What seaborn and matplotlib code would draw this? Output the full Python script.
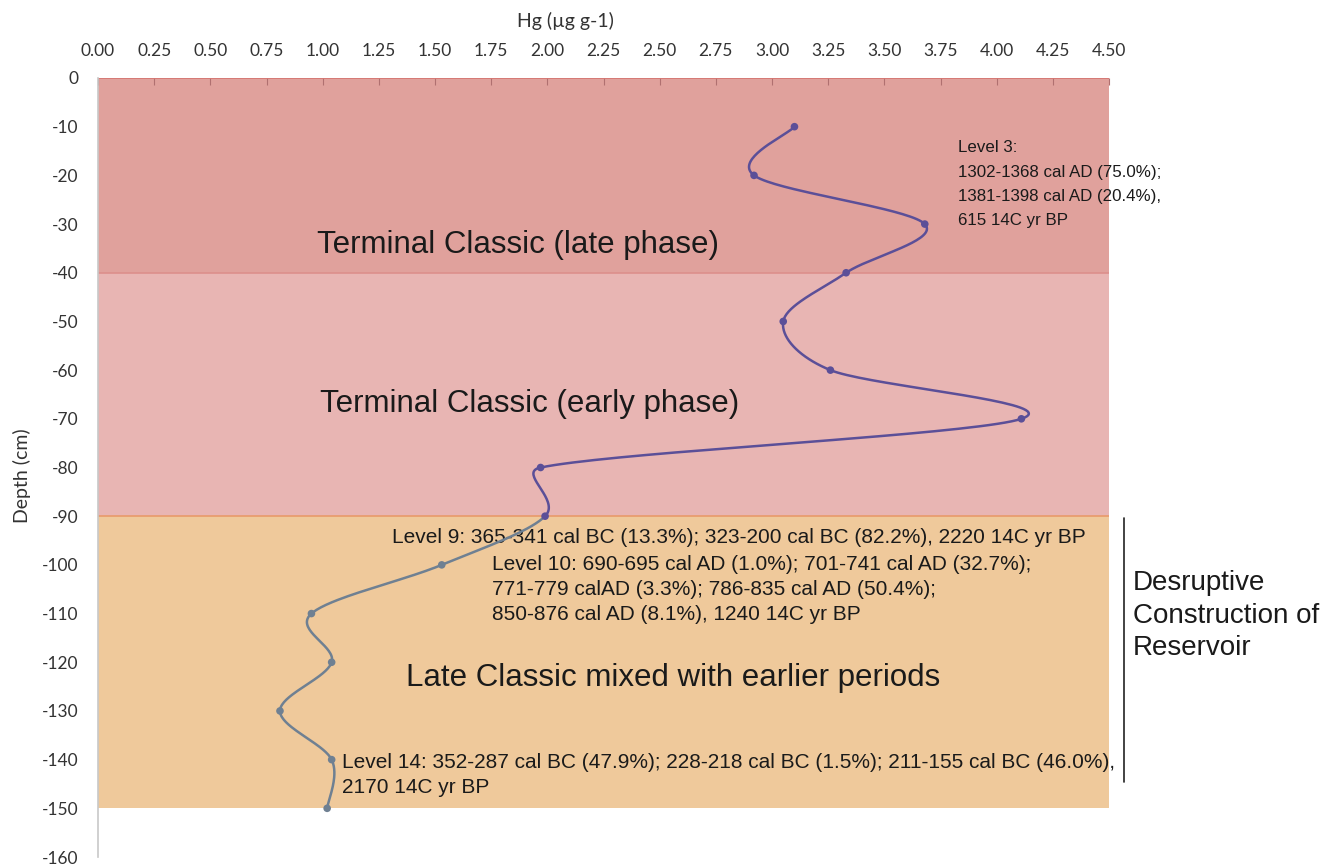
import numpy as np
import pandas as pd
import matplotlib
matplotlib.use("Agg")
import matplotlib.pyplot as plt
import seaborn as sns

# Hg concentration by depth
depth = [-10, -20, -30, -40, -50, -60, -70, -80, -90, -100, -110, -120, -130, -140, -150]
hg = [3.10, 2.92, 3.68, 3.33, 3.05, 3.26, 4.11, 1.97, 1.99, 1.53, 0.95, 1.04, 0.81, 1.04, 1.02]
split_idx = 8  # first series ends at -90

phases = ["Terminal Classic (late phase)", "Terminal Classic (early phase)",
          "Late Classic mixed with earlier periods"]
phase_top = [0, -40, -90]
phase_bottom = [-40, -90, -150]
phase_colors = ["#e0a19c", "#e8b5b3", "#efc99b"]
phase_edges = ["#d5736f", "#dc8f8c", "#e89a6a"]

xticks = [0, 0.25, 0.5, 0.75, 1.0, 1.25, 1.5, 1.75, 2.0, 2.25, 2.5, 2.75, 3.0, 3.25,
          3.5, 3.75, 4.0, 4.25, 4.5]
yticks = list(range(0, -170, -10))

NSEG = 40


def smooth(xs, ys, sx=224.7, sy=4.87):
    # Excel-like smoothed line: Bezier segments, control offset d02/6 capped at d12/2 (screen units)
    p = np.column_stack([np.asarray(xs) * sx, np.asarray(ys) * sy]).astype(float)
    p = np.vstack([p[0], p, p[-1]])
    out = []
    for i in range(1, len(p) - 2):
        p0, p1, p2, p3 = p[i - 1], p[i], p[i + 1], p[i + 2]
        d12 = np.linalg.norm(p2 - p1)
        d02 = np.linalg.norm(p2 - p0)
        d13 = np.linalg.norm(p3 - p1)
        f1 = 1 / 6 if d02 / 6 < d12 / 2 else d12 / (2 * d02)
        f2 = 1 / 6 if d13 / 6 < d12 / 2 else d12 / (2 * d13)
        c1 = p1 + (p2 - p0) * f1
        c2 = p2 - (p3 - p1) * f2
        t = np.linspace(0, 1, NSEG)[:, None]
        seg = ((1 - t) ** 3) * p1 + 3 * ((1 - t) ** 2) * t * c1 + 3 * (1 - t) * t ** 2 * c2 + t ** 3 * p2
        out.append(seg if i == 1 else seg[1:])
    s = np.vstack(out)
    return s[:, 0] / sx, s[:, 1] / sy


sns.set_style("white")
plt.rcParams["font.family"] = ["Lato", "DejaVu Sans"]
plt.rcParams["axes.unicode_minus"] = False

fig = plt.figure(figsize=(13.25, 8.66), dpi=100)
ax = fig.add_axes([98 / 1325, 1 - 857 / 866, (1109 - 98) / 1325, (857 - 78) / 866])

for top, bot, c, e in zip(phase_top, phase_bottom, phase_colors, phase_edges):
    ax.axhspan(bot, top, color=c, lw=0, zorder=0)
    ax.axhline(top, color=e, lw=1.2, zorder=1)

sx, sy = smooth(hg, depth)
cut = split_idx * (NSEG - 1)
upper = pd.DataFrame({"hg": sx[:cut + 1], "depth": sy[:cut + 1]})
lower = pd.DataFrame({"hg": sx[cut:], "depth": sy[cut:]})
sns.lineplot(data=upper, x="hg", y="depth", sort=False, estimator=None, color="#5b4f98",
             lw=1.8, ax=ax, zorder=3)
sns.lineplot(data=lower, x="hg", y="depth", sort=False, estimator=None, color="#6f8092",
             lw=1.8, ax=ax, zorder=3)

pts = pd.DataFrame({"hg": hg, "depth": depth})
pts["grp"] = ["a"] * (split_idx + 1) + ["b"] * (len(hg) - split_idx - 1)
sns.scatterplot(data=pts, x="hg", y="depth", hue="grp", palette={"a": "#5b4f98", "b": "#6f8092"},
                s=30, edgecolor="none", legend=False, ax=ax, zorder=4)

ax.set_xlim(0, 4.5)
ax.set_ylim(-160, 0)
ax.set_xticks(xticks)
ax.set_xticklabels([f"{v:.2f}" for v in xticks])
ax.set_yticks(yticks)
ax.xaxis.tick_top()
ax.xaxis.set_label_position("top")
ax.tick_params(axis="x", direction="in", length=5, color="#b07070", pad=14, labelsize=12.5,
               labelcolor="#333333")
ax.tick_params(axis="y", length=0, pad=14, labelsize=12.5, labelcolor="#333333")
ax.set_xlabel("Hg (µg g-1)", fontsize=14, color="#333333")
ax.xaxis.set_label_coords(0.462, 1.065)
ax.set_ylabel("Depth (cm)", fontsize=14, color="#333333")
ax.yaxis.set_label_coords(-0.066, 0.49)
for s in ["top", "right", "bottom"]:
    ax.spines[s].set_visible(False)
ax.spines["left"].set_color("#c8c8c8")
ax.spines["left"].set_linewidth(1.2)
ax.spines["left"].set_zorder(5)

arial = ["Liberation Sans", "DejaVu Sans"]
ax.text(1.87, -34.3, phases[0], fontsize=22.5, family=arial, ha="center", va="center", color="#1a1a1a")
ax.text(1.92, -66.9, phases[1], fontsize=22.5, family=arial, ha="center", va="center", color="#1a1a1a")
ax.text(2.56, -123.2, phases[2], fontsize=22.5, family=arial, ha="center", va="center", color="#1a1a1a")

ax.text(3.83, -12.8,
        "Level 3:\n1302-1368 cal AD (75.0%);\n1381-1398 cal AD (20.4%),\n615 14C yr BP",
        fontsize=12.2, family=arial, ha="left", va="top", linespacing=1.78, color="#1a1a1a")
ax.text(1.31, -94.4,
        "Level 9: 365-341 cal BC (13.3%); 323-200 cal BC (82.2%), 2220 14C yr BP",
        fontsize=15, family=arial, ha="left", va="center", color="#1a1a1a", zorder=2)
ax.text(1.755, -97.9,
        "Level 10: 690-695 cal AD (1.0%); 701-741 cal AD (32.7%);\n"
        "771-779 calAD (3.3%); 786-835 cal AD (50.4%);\n"
        "850-876 cal AD (8.1%), 1240 14C yr BP",
        fontsize=15, family=arial, ha="left", va="top", linespacing=1.42, color="#1a1a1a", zorder=2)
ax.text(1.085, -138.6,
        "Level 14: 352-287 cal BC (47.9%); 228-218 cal BC (1.5%); 211-155 cal BC (46.0%),\n"
        "2170 14C yr BP",
        fontsize=15, family=arial, ha="left", va="top", linespacing=1.42, color="#1a1a1a", zorder=2)

ax.plot([4.566, 4.566], [-90.4, -144.5], color="#222222", lw=1.2, clip_on=False)
ax.text(4.605, -101.0, "Desruptive\nConstruction of\nReservoir", fontsize=20, family=arial,
        ha="left", va="top", linespacing=1.34, color="#1a1a1a", clip_on=False)

fig.savefig("out.png", dpi=100)
